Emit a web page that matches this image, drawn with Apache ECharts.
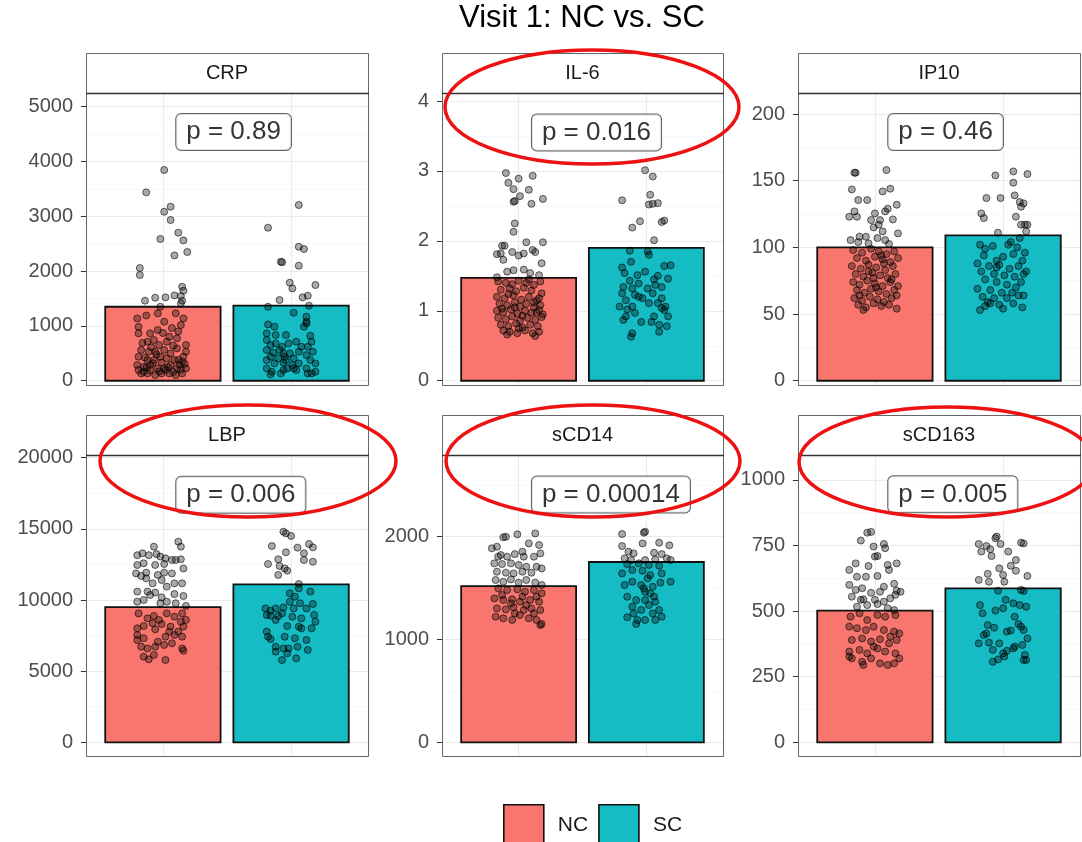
<!DOCTYPE html>
<html>
<head>
<meta charset="utf-8">
<script src="https://cdn.jsdelivr.net/npm/echarts@6/dist/echarts.min.js"></script>
<style>
  html, body { margin: 0; padding: 0; background: #fff; }
  #chart { width: 1082px; height: 842px; }
</style>
</head>
<body>
<div id="chart"></div>
<script>
// ---- data ----
const panels = ['CRP', 'IL-6', 'IP10', 'LBP', 'sCD14', 'sCD163'];
const groups = ['NC', 'SC'];
const barNC = [1350, 1.47, 100, 9500, 1520, 502];
const barSC = [1370, 1.90, 109, 11100, 1754, 587];
const pValues = ['0.89', '0.016', '0.46', '0.006', '0.00014', '0.005'];
const pLabelY = [4538, 3.55, 186.5, 17400, 2410, 945];

// y scale limits and tick steps per panel
const yMin = [-78, -0.061, -3.2, -963, -133, -52];
const yMax = [5250, 4.115, 215.8, 20190, 2795, 1095];
const majorStep = [1000, 1, 50, 5000, 1000, 250];
const minorStep = [500, 0.5, 25, 2500, 500, 125];

// individual observations: [jittered x position, value]
const crpNC = [[1.01,3845],[0.87,3437],[1.01,3084],[1.06,3175],[1.06,2932],[0.98,2585],[1.12,2701],[1.16,2561],[1.09,2287],[1.19,2348],[0.82,2056],[0.82,1928],[0.86,1460],[0.94,1515],[1.02,1521],[1.09,1557],[1.15,1715],[1.16,1642],[1.14,1545],[1.15,1460],[0.98,1350],[1.14,1411],
  [0.80,1137],[0.87,1190],[0.96,1229],[1.10,1229],[1.16,1137],[1.14,1016],[0.81,985],[0.81,864],[0.90,864],[0.96,925],[1.01,1076],[1.05,803],[0.88,712],[0.93,742],[0.97,651],[1.03,712],[1.11,773],[1.18,651],[0.83,560],[0.89,529],[0.94,529],[1.01,560],[1.06,499],[1.11,590],[1.16,438],[1.18,529],[0.81,438],[0.88,377],[0.93,377],[0.98,438],[1.03,408],[1.09,377],[1.15,347],[0.80,286],[0.85,255],[0.90,286],[0.96,225],[1.01,225],[1.06,286],[1.11,225],[1.18,225],[0.83,134],[0.88,134],[0.94,103],[0.99,134],[1.05,134],[1.10,103],[1.15,134],[0.81,195],[0.85,164],[0.92,320],[0.99,330],[1.04,250],[1.13,290],[1.17,310],[0.86,420],[0.95,480],[1.08,640],[1.12,900],[0.84,690],[0.91,610],[1.00,870],[1.07,960],[0.97,170],[1.02,190],[1.08,160],[1.14,200],[0.90,190],[1.12,380],[0.87,240]];
const crpSC = [[2.06,3206],[1.82,2792],[2.06,2445],[2.10,2403],[1.92,2172],[1.93,2160],[2.06,2099],[1.99,1788],[2.01,1685],[2.19,1746],[1.91,1472],[2.09,1521],[2.13,1551],[2.14,1369],
  [2.02,1241],[2.12,1168],[2.12,1077],[2.10,985],[2.12,1046],[1.82,1028],[1.87,985],[1.81,864],[1.88,833],[1.96,833],[2.15,821],[1.81,742],[2.04,712],[1.84,651],[1.88,681],[1.98,681],[2.08,620],[2.13,620],[1.81,560],[1.86,511],[1.94,499],[1.99,499],[2.06,529],[2.17,529],[1.84,438],[1.90,408],[1.96,377],[2.02,408],[2.12,468],[1.81,377],[1.87,316],[1.94,329],[2.01,286],[2.06,316],[2.15,377],[2.19,316],[1.81,225],[1.85,164],[1.94,195],[2.02,225],[2.13,134],[2.16,134],[2.19,164],[1.84,116],[1.92,134],[1.97,225],[2.04,195],[1.91,560],[1.93,620],[1.95,438],[2.12,225],[2.16,712],[1.82,1350]];

const il6NC = [[0.90,2.97],[0.92,2.83],[1.00,2.89],[1.11,2.93],[0.96,2.74],[1.08,2.73],[1.01,2.64],[0.96,2.56],[0.97,2.57],[1.10,2.53],[1.19,2.60],[0.97,2.25],[0.96,2.13],[1.06,1.98],[1.19,1.98],[0.87,1.93],[0.89,1.93],[0.86,1.82],[0.83,1.81],[0.95,1.84],[1.00,1.79],[1.04,1.82],[1.11,1.87],[1.13,1.84],[0.88,1.73],[1.18,1.68],[0.91,1.56],[0.96,1.58],[1.04,1.59],[1.09,1.54],[1.16,1.51],[0.83,1.48],
  [0.84,1.42],[0.90,1.40],[0.95,1.38],[1.00,1.43],[1.06,1.40],[1.12,1.37],[1.17,1.42],[0.86,1.30],[0.93,1.32],[0.98,1.28],[1.04,1.33],[1.10,1.29],[1.18,1.25],[0.83,1.20],[0.89,1.18],[0.96,1.22],[1.02,1.16],[1.08,1.20],[1.14,1.15],[0.85,1.10],[0.91,1.08],[0.97,1.12],[1.01,1.06],[1.06,1.10],[1.12,1.05],[1.17,1.08],[0.83,1.00],[0.88,0.98],[0.94,1.02],[0.99,0.96],[1.05,1.00],[1.10,0.97],[1.16,1.01],[1.19,0.95],[0.84,0.90],[0.90,0.88],[0.95,0.92],[1.01,0.86],[1.07,0.90],[1.13,0.87],[1.18,0.91],[0.86,0.80],[0.92,0.78],[0.98,0.82],[1.03,0.76],[1.09,0.80],[1.15,0.78],[0.88,0.72],[0.93,0.70],[0.99,0.68],[1.05,0.72],[1.11,0.68],[1.16,0.70],[0.91,0.66],[1.13,0.64],[0.97,1.05],[1.14,0.98],[1.16,1.18],[0.92,1.24],[1.03,0.93],[1.12,1.12],[0.87,1.03],[1.00,0.75],[1.08,1.45]];
const il6SC = [[1.99,3.01],[2.05,2.92],[1.81,2.58],[2.03,2.66],[2.02,2.52],[2.05,2.53],[2.09,2.54],[2.14,2.29],[2.12,2.27],[1.95,2.28],[1.89,2.19],[2.06,2.01],
  [1.87,1.86],[2.01,1.85],[2.02,1.80],[1.81,1.62],[1.88,1.70],[2.14,1.64],[2.19,1.65],[1.83,1.54],[1.99,1.56],[2.09,1.50],[2.17,1.46],[1.87,1.43],[1.94,1.39],[2.06,1.45],[1.82,1.34],[1.89,1.32],[2.01,1.32],[2.12,1.34],[1.81,1.25],[1.91,1.23],[2.05,1.25],[2.12,1.18],[1.84,1.15],[1.97,1.18],[2.09,1.11],[2.15,1.06],[1.79,1.06],[1.89,1.06],[2.02,1.11],[2.12,1.04],[2.14,1.01],[1.84,0.92],[1.91,0.97],[2.06,0.92],[2.17,0.92],[1.82,0.87],[1.96,0.84],[2.10,0.80],[2.16,0.78],[2.04,0.84],[1.89,0.68],[1.88,0.63],[2.10,0.70],[1.94,1.20],[2.07,1.37],[1.93,1.51],[1.85,1.02]];

const ip10NC = [[0.84,156],[0.85,156],[1.09,158],[0.82,143.5],[1.06,142],[1.12,144],[0.87,135.5],[0.94,135.5],[1.17,132],[1.10,129],[1.08,127],[0.84,127],[0.80,123],[0.86,123],[1.00,125.5],[1.14,121],[0.97,120.5],[1.04,120.5],[1.03,117],[1.18,110.5],[0.99,115],[0.93,108],[0.81,105.5],[0.87,104],[1.02,107],[1.08,105.5],[1.06,112],[0.95,103],[1.11,102.5],[0.88,108],
  [0.83,98],[0.90,96],[0.97,99],[1.03,97],[1.09,95],[1.15,97],[0.86,92],[0.93,90],[1.00,93],[1.06,91],[1.12,89],[1.18,92],[0.82,86],[0.89,84],[0.95,87],[1.01,85],[1.08,83],[1.14,86],[0.85,80],[0.91,78],[0.98,81],[1.04,79],[1.10,77],[1.16,80],[0.83,74],[0.88,72],[0.94,75],[1.00,73],[1.06,71],[1.12,74],[1.18,71],[0.86,68],[0.92,66],[0.97,69],[1.03,67],[1.09,65],[1.15,68],[0.84,62],[0.90,60],[0.96,63],[1.02,61],[1.07,59],[1.13,62],[0.87,57],[0.93,55],[0.99,58],[1.05,56],[1.11,57],[1.17,54],[0.91,53],[1.01,70],[0.95,82],[1.07,88],[1.13,76],[0.88,64],[1.05,94],[0.99,77],[1.17,64]];
const ip10SC = [[2.08,157],[1.94,154],[2.19,155],[2.08,148.5],[1.87,137],[1.98,137],[2.09,139],[2.13,134],[2.16,133],[2.14,130.5],[1.83,125.5],[1.85,122],[2.10,123],[2.17,117],[2.14,117],[2.19,117],[2.18,112],[1.96,111],[2.13,107],[2.06,104],
  [1.82,102],[1.86,99],[1.92,101],[2.04,102],[2.11,100],[2.17,96],[1.85,94],[1.95,90],[2.00,93],[2.08,95],[2.15,90],[1.80,88],[1.89,86],[1.97,87],[2.05,84],[2.12,86],[2.18,82],[1.83,82],[1.93,80],[2.01,79],[2.09,78],[2.16,80],[1.86,76],[1.95,74],[2.03,72],[2.14,74],[1.80,69],[1.90,68],[1.99,66],[2.07,66],[2.16,64],[1.84,63],[1.93,62],[2.03,62],[2.12,64],[1.88,59],[1.97,57],[2.08,58],[1.86,56],[1.90,58],[1.82,53],[2.00,54],[2.15,55],[1.95,85],[2.10,70]];

const lbpNC = [[1.12,14100],[1.14,13750],[0.93,13750],[0.80,13150],[0.84,13280],[0.89,13150],[0.95,13230],[0.98,13050],[1.02,12930],[1.07,12810],[1.10,12810],[1.14,12860],[0.80,12460],[0.85,12580],[0.94,12460],[1.01,12530],[1.16,12220],[0.79,11870],[0.83,11690],[0.87,11520],[0.92,11170],[1.01,11920],[1.07,11870],[0.99,11400],[1.15,11170],[1.09,11170],[0.80,10590],[0.88,10590],[0.94,10520],[0.99,10190],[1.09,10420],[1.16,10280],[0.80,9880],[0.85,10000],[1.03,9880],[1.10,9770],[1.18,9580],[0.90,10350],[0.96,11760],[1.03,10940],[0.87,11920],[0.98,9770],
  [0.81,9060],[0.88,8710],[0.93,8880],[0.97,8600],[1.03,9060],[1.09,8830],[1.15,9060],[1.18,8600],[0.80,8010],[0.85,8170],[0.94,7940],[0.99,8310],[1.06,8130],[1.12,7780],[1.16,8130],[0.80,7540],[0.85,7310],[0.96,7070],[1.02,7420],[1.09,7540],[1.15,7420],[0.83,6720],[0.88,6600],[0.94,6720],[1.01,6840],[1.07,6960],[1.15,6600],[1.16,6440],[0.85,6020],[0.89,5830],[0.93,6140],[1.02,5780],[0.80,7190],[1.05,7780],[1.14,8480],[0.92,8360]];
const lbpSC = [[1.94,14800],[1.96,14680],[2.00,14500],[1.85,13790],[2.05,13680],[2.14,13940],[2.17,13700],[1.96,13350],[2.10,13280],[1.90,12860],[2.10,12810],[2.17,12690],[1.82,12530],[1.91,12390],[1.95,12220],[1.97,12060],[1.90,11760],[2.06,11120],
  [2.06,10820],[2.15,10590],[1.99,10470],[2.03,10230],[1.99,9880],[2.07,9770],[2.17,9720],[1.80,9410],[1.84,9250],[1.88,9410],[1.94,9480],[2.02,9410],[2.12,9410],[1.81,8950],[1.84,8900],[1.90,8880],[1.93,9060],[2.01,8830],[2.08,8710],[2.18,8950],[2.19,8480],[2.06,8130],[2.08,8010],[1.97,8170],[1.88,8600],[2.16,8010],[1.82,7420],[1.84,7260],[1.95,7420],[2.03,7310],[1.88,6720],[1.94,6600],[1.98,6600],[2.05,6720],[2.13,6490],[1.88,6370],[1.97,6250],[2.04,5900],[1.93,5780],[2.12,7190],[1.81,7780]];

const scd14NC = [[0.88,1994],[0.90,2000],[0.99,2023],[1.13,2032],[0.79,1887],[0.83,1903],[1.08,1935],[1.16,1919],[1.17,1838],[0.86,1822],[0.91,1806],[0.97,1831],[1.04,1806],[1.12,1806],[0.81,1741],[0.87,1734],[0.94,1741],[1.00,1725],[1.06,1708],[1.14,1708],[1.18,1692],[0.83,1660],[0.90,1650],[0.96,1643],[1.03,1660],[1.10,1650],[0.82,1579],[0.88,1562],[0.94,1585],[1.00,1553],[1.06,1579],[1.13,1553],[1.18,1530],[0.84,1498],[0.91,1481],[0.99,1488],[1.05,1465],[1.12,1481],[1.18,1449],[0.81,1400],[0.88,1384],[0.95,1391],[1.01,1368],[1.09,1384],[1.16,1368],[0.83,1303],[0.90,1293],[0.96,1313],[1.04,1287],[1.10,1303],[1.17,1287],[0.82,1222],[0.88,1206],[0.95,1190],[1.01,1238],[1.08,1206],[1.14,1190],[1.17,1141],[1.18,1151],[0.87,1433],[1.03,1417],[1.14,1417],[0.94,1352],[1.06,1335],[0.97,1254],[1.12,1254],[0.84,1806],[1.03,1854]];
const scd14SC = [[1.81,2026],[1.98,2039],[1.99,2049],[1.81,1909],[1.97,1935],[2.10,1942],[2.18,1916],[1.86,1854],[1.90,1838],[2.06,1844],[2.12,1831],[1.83,1789],[1.88,1773],[1.99,1773],[2.07,1779],[2.16,1789],[2.19,1773],[1.85,1734],[1.94,1741],[2.02,1725],[2.10,1718],[1.81,1643],[1.89,1676],[1.97,1669],[2.03,1627],[2.12,1643],[1.83,1530],[1.89,1562],[1.96,1530],[2.01,1595],[2.05,1514],[2.11,1553],[2.19,1562],[1.99,1465],[2.03,1449],[1.85,1417],[1.92,1384],[1.99,1384],[2.07,1368],[1.89,1319],[1.96,1287],[2.02,1335],[2.10,1287],[1.90,1254],[2.05,1254],[1.85,1216],[1.93,1190],[1.99,1190],[2.07,1190],[2.12,1222],[1.92,1151],[1.98,1498],[2.06,1417]];

const scd163NC = [[0.94,799],[0.97,802],[0.89,769],[0.99,746],[1.07,756],[1.08,740],[1.02,710],[1.00,708],[0.80,657],[0.85,682],[0.95,672],[1.10,676],[1.17,682],[1.11,657],[0.86,631],[0.93,631],[1.02,634],[1.07,593],[0.80,600],[0.85,581],[0.90,587],[0.97,570],[1.04,574],[1.15,604],[1.17,578],[1.20,574],[0.82,555],[0.91,545],[1.00,543],[1.12,549],[1.16,562],[0.86,517],[0.94,523],[1.02,527],[1.10,511],[1.15,504],[0.81,479],[0.88,492],[0.94,466],[1.02,485],[1.08,479],[1.16,485],[0.80,441],[0.86,435],[0.93,428],[0.99,441],[1.07,428],[1.15,422],[1.19,415],[0.82,390],[0.90,396],[0.97,384],[1.04,393],[1.11,377],[1.17,390],[0.80,346],[0.88,352],[0.94,339],[1.02,358],[1.08,346],[1.16,339],[0.80,327],[0.82,320],[0.90,307],[0.97,320],[1.04,301],[1.10,295],[1.15,301],[1.19,320],[0.91,295],[0.99,365],[1.12,403],[1.07,536],[0.89,543]];
const scd163SC = [[1.94,778],[1.95,784],[1.81,756],[1.87,748],[1.90,736],[1.83,727],[1.98,756],[2.14,761],[2.16,758],[2.04,727],[1.91,710],[2.10,695],[2.06,673],[1.97,663],[2.10,654],[1.88,642],[2.00,638],[2.19,634],[1.81,619],[1.89,612],[2.01,612],[2.14,581],[1.96,578],[2.16,577],[2.02,543],[1.82,523],[2.08,530],[2.13,523],[2.18,517],[1.84,492],[1.94,502],[2.00,511],[2.09,479],[1.88,447],[1.93,437],[1.87,415],[1.85,409],[2.06,426],[2.03,422],[2.14,441],[2.16,428],[2.19,396],[1.81,377],[1.89,380],[1.97,377],[2.09,365],[2.15,371],[1.92,352],[2.03,349],[2.00,339],[2.08,358],[2.17,333],[2.18,314],[1.96,316],[2.01,327],[1.92,307],[2.16,314],[2.12,451]];

const pointsNC = [crpNC, il6NC, ip10NC, lbpNC, scd14NC, scd163NC];
const pointsSC = [crpSC, il6SC, ip10SC, lbpSC, scd14SC, scd163SC];

// ---- layout ----
const FONT = '"Liberation Sans", Arial, Helvetica, sans-serif';
const colLeft = [86, 442, 798];
const colWidth = [282, 281, 282];
const rowTop = [93, 455];
const rowHeight = [292, 301];
const stripH = 40;
const fillColors = { NC: '#F8766D', SC: '#16BCC4' };

const chart = echarts.init(document.getElementById('chart'), null, { renderer: 'canvas' });

const grids = [], xAxes = [], yAxes = [], series = [], graphics = [];

function ticksFor(i) {
  const out = [];
  for (let v = 0; v <= yMax[i] + 1e-9; v += majorStep[i]) out.push(Math.round(v * 1000) / 1000);
  return out;
}

function renderBar(params, api) {
  const x = api.value(0), v = api.value(1);
  const top = api.coord([x, v]);
  const base = api.coord([x, 0]);
  const w = api.size([0.9, 0])[0];
  return {
    type: 'rect',
    shape: { x: top[0] - w / 2, y: top[1], width: w, height: base[1] - top[1] },
    style: { fill: api.visual('color'), stroke: '#111', lineWidth: 1.8 }
  };
}

panels.forEach((name, i) => {
  const r = Math.floor(i / 3), c = i % 3;
  const left = colLeft[c], top = rowTop[r], width = colWidth[c], height = rowHeight[r];
  grids.push({ left, top, width, height, show: false });

  xAxes.push({
    gridIndex: i, type: 'value', min: 0.4, max: 2.6, minInterval: 1, maxInterval: 1,
    axisLine: { show: false }, axisTick: { show: false }, axisLabel: { show: false },
    splitLine: { show: true, lineStyle: { color: '#ebebeb', width: 1.2 } }
  });

  const ticks = ticksFor(i);
  // major axis (labels, ticks, major grid)
  yAxes.push({
    gridIndex: i, type: 'value', min: yMin[i], max: yMax[i],
    minInterval: majorStep[i], maxInterval: majorStep[i], z: 1,
    axisLine: { show: false },
    axisTick: { show: true, length: 5, lineStyle: { color: '#333', width: 1 }, customValues: ticks },
    axisLabel: {
      show: true, customValues: ticks, color: '#4d4d4d', fontSize: 20, fontFamily: FONT, margin: 13,
      formatter: v => String(v)
    },
    splitLine: { show: true, lineStyle: { color: '#ebebeb', width: 1.2 } }
  });
  // minor grid
  yAxes.push({
    gridIndex: i, type: 'value', min: yMin[i], max: yMax[i], position: 'left',
    minInterval: minorStep[i], maxInterval: minorStep[i], z: 0,
    axisLine: { show: false }, axisTick: { show: false }, axisLabel: { show: false },
    splitLine: { show: true, lineStyle: { color: '#f5f5f5', width: 0.7 } }
  });

  const yi = 2 * i;
  series.push({
    name: 'NC', type: 'custom', xAxisIndex: i, yAxisIndex: yi, z: 2, silent: true,
    itemStyle: { color: fillColors.NC }, renderItem: renderBar, data: [[1, barNC[i]]]
  });
  series.push({
    name: 'SC', type: 'custom', xAxisIndex: i, yAxisIndex: yi, z: 2, silent: true,
    itemStyle: { color: fillColors.SC }, renderItem: renderBar, data: [[2, barSC[i]]]
  });
  [pointsNC[i], pointsSC[i]].forEach((pts, g) => {
    series.push({
      name: groups[g] + ' values', type: 'scatter', xAxisIndex: i, yAxisIndex: yi, z: 3, silent: true,
      symbolSize: 7,
      itemStyle: { color: 'rgba(0,0,0,0.42)', borderColor: 'rgba(0,0,0,0.72)', borderWidth: 1 },
      data: pts
    });
  });
  series.push({
    name: 'p value', type: 'scatter', xAxisIndex: i, yAxisIndex: yi, z: 4, silent: true,
    symbolSize: 1, itemStyle: { color: 'rgba(0,0,0,0)' },
    label: {
      show: true, position: 'right', distance: 0, formatter: 'p = ' + pValues[i],
      fontSize: 26, fontFamily: FONT, color: '#000', lineHeight: 28,
      backgroundColor: '#fff', borderColor: '#3a3a3a', borderWidth: 1, borderRadius: 5,
      padding: [4, 10, 4, 10], verticalAlign: 'middle'
    },
    data: [[1.1, pLabelY[i]]]
  });

  // panel frame and facet strip
  graphics.push({
    type: 'rect', z: 50, silent: true,
    shape: { x: left + 0.5, y: top - stripH + 0.5, width: width, height: stripH },
    style: { fill: '#fff', stroke: '#666', lineWidth: 1 }
  });
  graphics.push({
    type: 'rect', z: 50, silent: true,
    shape: { x: left + 0.5, y: top + 0.5, width: width, height: height },
    style: { fill: 'none', stroke: '#666', lineWidth: 1 }
  });
  graphics.push({
    type: 'line', z: 51, silent: true,
    shape: { x1: left, y1: top + 0.5, x2: left + width + 1, y2: top + 0.5 },
    style: { stroke: '#333', lineWidth: 1.6 }
  });
  graphics.push({
    type: 'text', z: 52, silent: true,
    style: {
      text: name, x: left + width / 2, y: top - stripH / 2, textAlign: 'center', textVerticalAlign: 'middle',
      font: '20px ' + FONT, fill: '#1a1a1a'
    }
  });
});

// title
graphics.push({
  type: 'text', z: 60, silent: true,
  style: { text: 'Visit 1: NC vs. SC', x: 582, y: 3, textAlign: 'center', textVerticalAlign: 'top', font: '31px ' + FONT, fill: '#000' }
});

// highlight rings
[[592, 107, 147, 57], [248, 461, 148, 56], [593, 461, 147, 56], [947, 462, 148, 55]].forEach(e => {
  graphics.push({
    type: 'ellipse', z: 100, silent: true,
    shape: { cx: e[0], cy: e[1], rx: e[2], ry: e[3] },
    style: { fill: 'none', stroke: '#ee1111', lineWidth: 3.5 }
  });
});

chart.setOption({
  animation: false,
  backgroundColor: '#fff',
  grid: grids,
  xAxis: xAxes,
  yAxis: yAxes,
  legend: {
    data: groups, left: 498, top: 799, icon: 'rect', itemWidth: 40, itemHeight: 40, itemGap: 10,
    selectedMode: false,
    itemStyle: { borderColor: '#111', borderWidth: 1.6 },
    textStyle: { fontSize: 21, fontFamily: FONT, color: '#1a1a1a', padding: [0, 0, 0, 9] }
  },
  graphic: graphics,
  series: series
});
</script>
</body>
</html>
